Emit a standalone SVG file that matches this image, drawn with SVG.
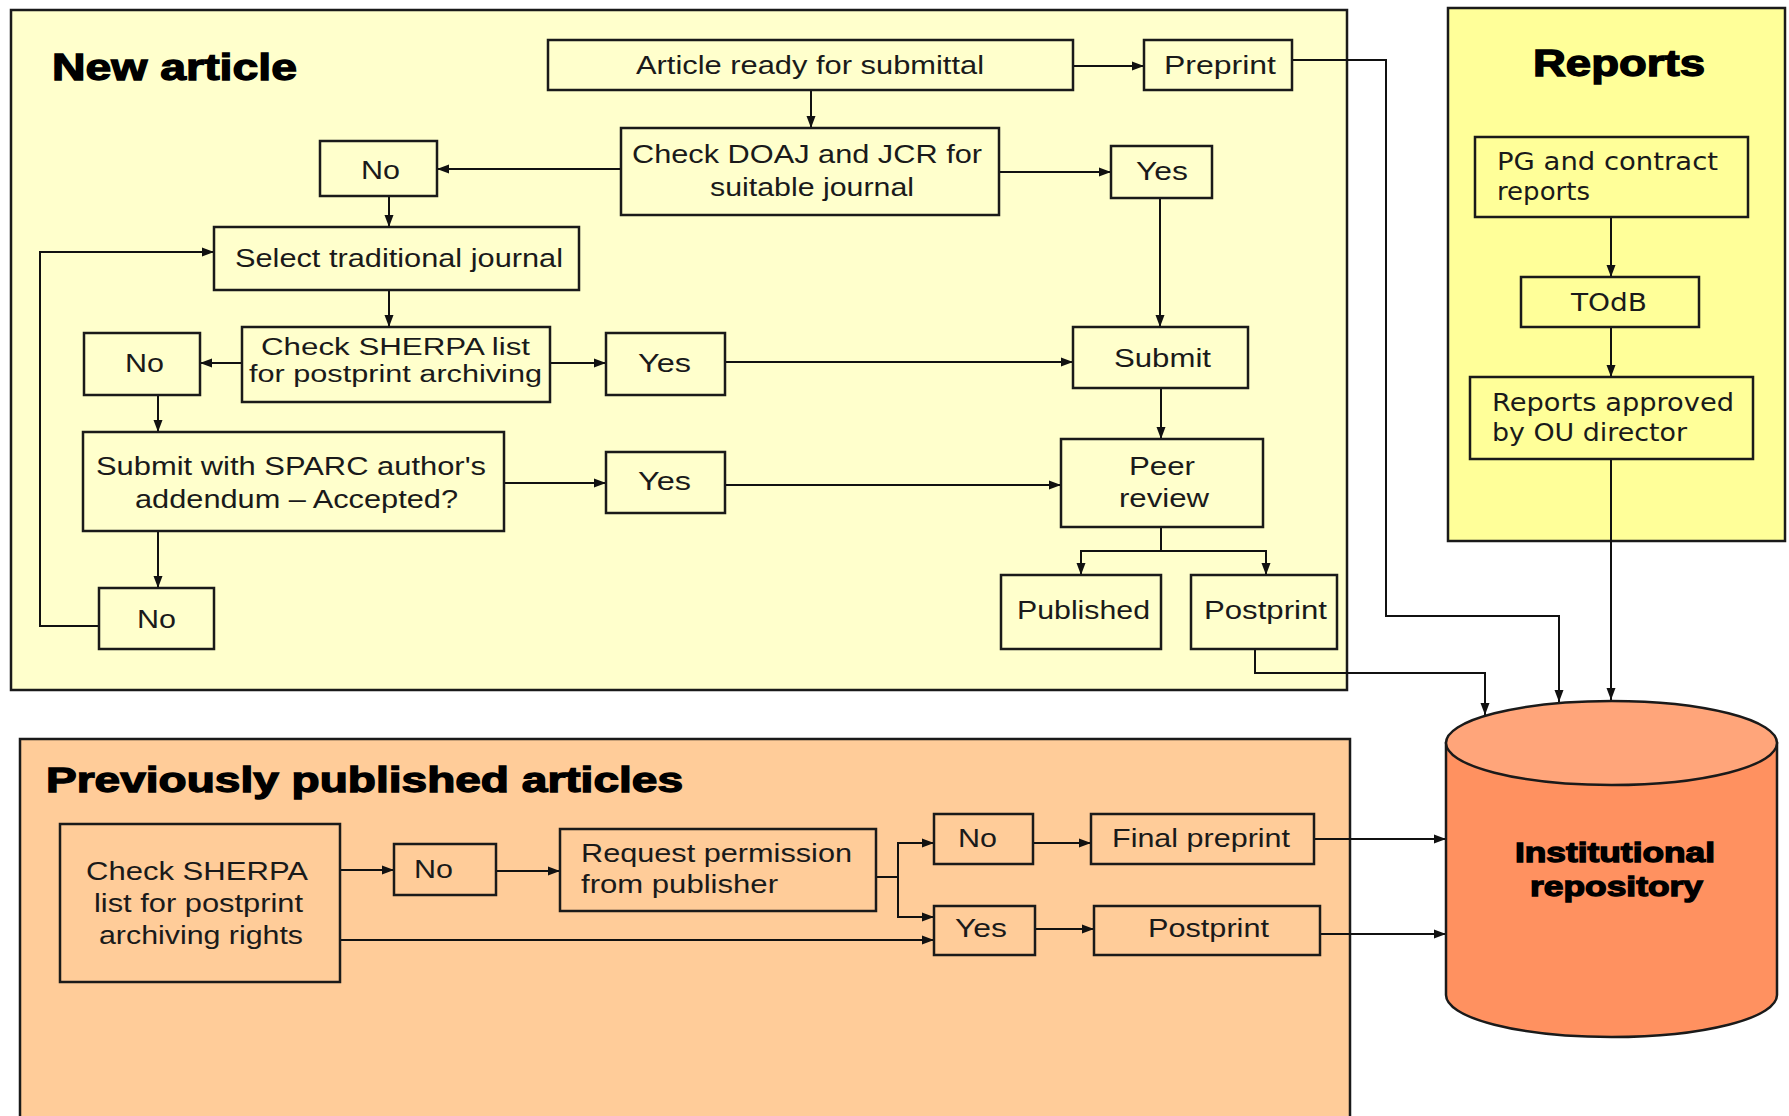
<svg xmlns="http://www.w3.org/2000/svg" width="1789" height="1116" viewBox="0 0 1789 1116">
<defs>
<marker id="ah" markerUnits="userSpaceOnUse" markerWidth="12" markerHeight="10" refX="12" refY="5" orient="auto">
<path d="M0,0.5 L12,5 L0,9.5 Z" fill="#111"/>
</marker>
<style>
.panel{stroke:#1a1a1a;stroke-width:2.5}
.box{stroke:#1a1a1a;stroke-width:2.5}
.ya{fill:#FFFFCC}
.yb{fill:#FFFF99}
.pc{fill:#FFCC99}
.t{font-family:"Liberation Sans",Arial,sans-serif;font-size:26px;fill:#1a1a1a}
.s{font-size:23px}
.v{font-family:"DejaVu Sans",Verdana,sans-serif;font-size:25px;fill:#1a1a1a}
.h{font-family:"Liberation Sans",Arial,sans-serif;font-weight:bold;fill:#000;stroke:#000;stroke-width:1.3}
.c{fill:none;stroke:#111;stroke-width:2;marker-end:url(#ah)}
.cn{fill:none;stroke:#111;stroke-width:2}
</style>
</defs>
<rect width="1789" height="1116" fill="#ffffff"/>

<g id="panel-new-article">
<rect class="panel ya" x="11" y="10" width="1336" height="680"/>
<text class="h" x="52" y="80" font-size="37" textLength="245" lengthAdjust="spacingAndGlyphs">New article</text>
</g>
<g id="panel-reports">
<rect class="panel yb" x="1448" y="8" width="337" height="533"/>
<text class="h" x="1533" y="76" font-size="36" textLength="172" lengthAdjust="spacingAndGlyphs">Reports</text>
</g>
<g id="panel-previous">
<rect class="panel pc" x="20" y="739" width="1330" height="400"/>
<text class="h" x="46" y="792" font-size="35" textLength="637" lengthAdjust="spacingAndGlyphs">Previously published articles</text>
</g>

<g id="connectors">
<path class="c" d="M1073,66 H1144"/>
<path class="c" d="M811,90 V128"/>
<path class="c" d="M621,169 H437"/>
<path class="c" d="M999,172 H1111"/>
<path class="c" d="M1160,198 V327"/>
<path class="c" d="M389,196 V227"/>
<path class="c" d="M389,290 V327"/>
<path class="c" d="M242,363 H200"/>
<path class="c" d="M550,363 H606"/>
<path class="c" d="M725,362 H1073"/>
<path class="c" d="M158,395 V432"/>
<path class="c" d="M504,483 H606"/>
<path class="c" d="M725,485 H1061"/>
<path class="c" d="M1161,388 V439"/>
<path class="c" d="M158,531 V588"/>
<path class="c" d="M99,626 H40 V252 H214"/>
<path class="c" d="M1161,527 V551 H1081 V575"/>
<path class="c" d="M1161,551 H1266 V575"/>
<path class="c" d="M1292,60 H1386 V616 H1559 V702"/>
<path class="c" d="M1255,649 V673 H1485 V715"/>
<path class="c" d="M1611,459 V700"/>
<path class="c" d="M1611,217 V277"/>
<path class="c" d="M1611,327 V377"/>
<path class="c" d="M340,870 H394"/>
<path class="c" d="M496,871 H560"/>
<path class="cn" d="M876,877 H898"/>
<path class="c" d="M898,877 V843 H934"/>
<path class="c" d="M898,877 V917 H934"/>
<path class="c" d="M340,940 H934"/>
<path class="c" d="M1033,843 H1091"/>
<path class="c" d="M1035,929 H1094"/>
<path class="c" d="M1314,839 H1446"/>
<path class="c" d="M1320,934 H1446"/>
</g>

<g id="n-article-ready"><rect class="box ya" x="548" y="40" width="525" height="50"/><text class="t" x="636" y="74" textLength="348" lengthAdjust="spacingAndGlyphs">Article ready for submittal</text></g>
<g id="n-preprint-top"><rect class="box ya" x="1144" y="40" width="148" height="50"/><text class="t" x="1164" y="74" textLength="112" lengthAdjust="spacingAndGlyphs">Preprint</text></g>
<g id="n-check-doaj"><rect class="box ya" x="621" y="128" width="378" height="87"/><text class="t" x="632" y="163" textLength="350" lengthAdjust="spacingAndGlyphs">Check DOAJ and JCR for</text><text class="t" x="710" y="196" textLength="204" lengthAdjust="spacingAndGlyphs">suitable journal</text></g>
<g id="n-no-1"><rect class="box ya" x="320" y="141" width="117" height="55"/><text class="t" x="361" y="179" textLength="39" lengthAdjust="spacingAndGlyphs">No</text></g>
<g id="n-yes-1"><rect class="box ya" x="1111" y="146" width="101" height="52"/><text class="t" x="1136" y="180" textLength="52" lengthAdjust="spacingAndGlyphs">Yes</text></g>
<g id="n-select-journal"><rect class="box ya" x="214" y="227" width="365" height="63"/><text class="t" x="235" y="267" textLength="328" lengthAdjust="spacingAndGlyphs">Select traditional journal</text></g>
<g id="n-check-sherpa"><rect class="box ya" x="242" y="327" width="308" height="75"/><text class="t s" x="261" y="355" textLength="269" lengthAdjust="spacingAndGlyphs">Check SHERPA list</text><text class="t s" x="249" y="382" textLength="293" lengthAdjust="spacingAndGlyphs">for postprint archiving</text></g>
<g id="n-no-2"><rect class="box ya" x="84" y="333" width="116" height="62"/><text class="t" x="125" y="372" textLength="39" lengthAdjust="spacingAndGlyphs">No</text></g>
<g id="n-yes-2"><rect class="box ya" x="606" y="333" width="119" height="62"/><text class="t" x="638" y="372" textLength="53" lengthAdjust="spacingAndGlyphs">Yes</text></g>
<g id="n-submit"><rect class="box ya" x="1073" y="327" width="175" height="61"/><text class="t" x="1114" y="367" textLength="97" lengthAdjust="spacingAndGlyphs">Submit</text></g>
<g id="n-sparc"><rect class="box ya" x="83" y="432" width="421" height="99"/><text class="t" x="96" y="475" textLength="390" lengthAdjust="spacingAndGlyphs">Submit with SPARC author's</text><text class="t" x="135" y="508" textLength="323" lengthAdjust="spacingAndGlyphs">addendum – Accepted?</text></g>
<g id="n-yes-3"><rect class="box ya" x="606" y="452" width="119" height="61"/><text class="t" x="638" y="490" textLength="53" lengthAdjust="spacingAndGlyphs">Yes</text></g>
<g id="n-peer-review"><rect class="box ya" x="1061" y="439" width="202" height="88"/><text class="t" x="1129" y="475" textLength="66" lengthAdjust="spacingAndGlyphs">Peer</text><text class="t" x="1119" y="507" textLength="90" lengthAdjust="spacingAndGlyphs">review</text></g>
<g id="n-no-3"><rect class="box ya" x="99" y="588" width="115" height="61"/><text class="t" x="137" y="628" textLength="39" lengthAdjust="spacingAndGlyphs">No</text></g>
<g id="n-published"><rect class="box ya" x="1001" y="575" width="160" height="74"/><text class="t" x="1017" y="619" textLength="133" lengthAdjust="spacingAndGlyphs">Published</text></g>
<g id="n-postprint-a"><rect class="box ya" x="1191" y="575" width="146" height="74"/><text class="t" x="1204" y="619" textLength="123" lengthAdjust="spacingAndGlyphs">Postprint</text></g>

<g id="n-pg-reports"><rect class="box yb" x="1475" y="137" width="273" height="80"/><text class="v" x="1497" y="170" textLength="221" lengthAdjust="spacingAndGlyphs">PG and contract</text><text class="v" x="1497" y="200" textLength="93" lengthAdjust="spacingAndGlyphs">reports</text></g>
<g id="n-todb"><rect class="box yb" x="1521" y="277" width="178" height="50"/><text class="v" x="1571" y="311" textLength="76" lengthAdjust="spacingAndGlyphs">TOdB</text></g>
<g id="n-reports-approved"><rect class="box yb" x="1470" y="377" width="283" height="82"/><text class="v" x="1492" y="411" textLength="242" lengthAdjust="spacingAndGlyphs">Reports approved</text><text class="v" x="1492" y="441" textLength="195" lengthAdjust="spacingAndGlyphs">by OU director</text></g>

<g id="n-check-sherpa-rights"><rect class="box pc" x="60" y="824" width="280" height="158"/><text class="t" x="86" y="880" textLength="222" lengthAdjust="spacingAndGlyphs">Check SHERPA</text><text class="t" x="94" y="912" textLength="209" lengthAdjust="spacingAndGlyphs">list for postprint</text><text class="t" x="99" y="944" textLength="204" lengthAdjust="spacingAndGlyphs">archiving rights</text></g>
<g id="n-no-4"><rect class="box pc" x="394" y="844" width="102" height="51"/><text class="t" x="414" y="878" textLength="39" lengthAdjust="spacingAndGlyphs">No</text></g>
<g id="n-request"><rect class="box pc" x="560" y="829" width="316" height="82"/><text class="t" x="581" y="862" textLength="271" lengthAdjust="spacingAndGlyphs">Request permission</text><text class="t" x="581" y="893" textLength="197" lengthAdjust="spacingAndGlyphs">from publisher</text></g>
<g id="n-no-5"><rect class="box pc" x="934" y="814" width="99" height="50"/><text class="t" x="958" y="847" textLength="39" lengthAdjust="spacingAndGlyphs">No</text></g>
<g id="n-final-preprint"><rect class="box pc" x="1091" y="814" width="223" height="50"/><text class="t" x="1112" y="847" textLength="178" lengthAdjust="spacingAndGlyphs">Final preprint</text></g>
<g id="n-yes-4"><rect class="box pc" x="934" y="906" width="101" height="49"/><text class="t" x="955" y="937" textLength="52" lengthAdjust="spacingAndGlyphs">Yes</text></g>
<g id="n-postprint-b"><rect class="box pc" x="1094" y="906" width="226" height="49"/><text class="t" x="1148" y="937" textLength="121" lengthAdjust="spacingAndGlyphs">Postprint</text></g>

<g id="n-repository">
<path d="M1446,743 V995 A165.5,42 0 0 0 1777,995 V743 Z" fill="#FF9160" stroke="#1a1a1a" stroke-width="2.5"/>
<ellipse cx="1611.5" cy="743" rx="165.5" ry="42" fill="#FFA57A" stroke="#1a1a1a" stroke-width="2.5"/>
<text class="h" x="1515" y="862" font-size="28" textLength="200" lengthAdjust="spacingAndGlyphs">Institutional</text>
<text class="h" x="1530" y="896" font-size="28" textLength="173" lengthAdjust="spacingAndGlyphs">repository</text>
</g>
</svg>
